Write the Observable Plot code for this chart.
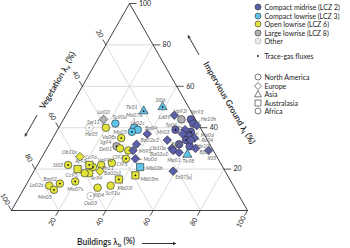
<!DOCTYPE html>
<html>
<head>
<meta charset="utf-8">
<script src="https://cdn.jsdelivr.net/npm/d3@7"></script>
<script src="https://cdn.jsdelivr.net/npm/@observablehq/plot@0.6"></script>
<style>
html,body{margin:0;padding:0;background:#fff;}
#wrap{position:relative;width:350px;height:248px;overflow:hidden;font-family:Lato,"Open Sans",sans-serif;}
#legend{position:absolute;left:0;top:0;width:350px;height:248px;pointer-events:none;}
.lg{position:absolute;font-size:7px;line-height:8px;color:#222;white-space:nowrap;display:flex;align-items:center;}
.lg svg{width:8px;height:8px;margin-right:2.5px;overflow:visible;}
</style>
</head>
<body>
<div id="wrap"><div id="chart"></div><div id="legend"></div></div>
<script>
// ---------------- data (percent of plan area) ----------------
const siteNames = ["Ld09","Mr93","","He10h","To04","Mr03","","Me06","","Ro04","","","Ba95","","Ob10u","Ba02u1","He10l","Bj05","Il05","Ma01","Es07[u]","Ba04","Ba02u2","Mi95","Mu06",
  "Tk01","Sl06","Tk98","Tu90u","Mo07u","Lo02c","Mo05","Mb03h",
  "Lo02l","Va92l","Sg94",
  "He05","Ou03",
  "Sw11","Va08s","Dn01","Cl92","Cl95","Ph11","Va99u","Cc96","Ob10s","Ar93","Sl03","Cc95","Ba02s1","Ar94","","Mo07s","Bm02","Lo02s","Mn05","Ki04","Sc91u","Mb03l","Mb03m"];
const siteClass = ["LCZ2","LCZ2","LCZ2","LCZ2","LCZ2","LCZ2","LCZ2","LCZ2","LCZ2","LCZ2","LCZ2","LCZ2","LCZ2","LCZ2","LCZ2","LCZ2","LCZ2","LCZ2","LCZ2","LCZ2","LCZ2","LCZ2","LCZ2","LCZ2","LCZ2",
  "LCZ3","LCZ3","LCZ3","LCZ3","LCZ3","LCZ3","LCZ3","LCZ3",
  "LCZ8","LCZ8","LCZ8",
  "Other","Other",
  "LCZ6","LCZ6","LCZ6","LCZ6","LCZ6","LCZ6","LCZ6","LCZ6","LCZ6","LCZ6","LCZ6","LCZ6","LCZ6","LCZ6","LCZ6","LCZ6","LCZ6","LCZ6","LCZ6","LCZ6","LCZ6","LCZ6","LCZ6"];
const siteRegion = ["EU","NA","NA","EU","EU","NA","EU","NA","NA","EU","NA","EU","EU","NA","EU","EU","NA","EU","EU","EU","EU","EU","EU","EU","EU",
  "AS","AS","AS","NA","NA","NA","NA","AU",
  "EU","NA","NA",
  "NA","AF",
  "NA","NA","NA","NA","NA","NA","NA","NA","EU","AU","NA","AU","EU","NA","NA","NA","NA","NA","NA","NA","NA","AU","AU"];
const siteFlux = [0,0,0,0,0,1,0,1,0,0,1,0,0,0,0,0,0,0,0,0,0,0,0,0,0,
  1,1,0,0,0,0,1,0,
  0,0,1,
  1,1,
  0,1,0,0,1,0,0,1,0,1,1,0,0,0,0,1,1,0,1,0,0,1,1];
const buildings = [46,54,56,58,54,50,54,57,57,60,57,59,49,55,53,54,60,63,69,57,59,39,37,37,40,
  32,39,61,23,32,34,32,44,
  17,50,29,
  13,30,
  20,29,31,35,36,31,27,24,16,22,13,18,28,24,22,20,14,10,13,31,36,38,44];
const impervious = [46,44,42,41,39,39,37,38,36,35,34,34,34,32,30,29,31,30,29,28,19,37,32,29,25,
  48,50,27,42,40,39,38,21,
  44,44,31,
  40,7,
  40,35,30,29,25,23,22,21,26,22,22,20,19,18,18,14,13,12,10,11,12,15,17];
const vegetation = [8,2,2,1,7,11,9,5,7,5,9,7,17,13,17,17,9,7,2,15,22,24,31,34,35,
  20,11,12,35,28,27,30,35,
  39,6,40,
  47,63,
  40,36,39,36,39,46,51,55,58,56,65,62,53,58,60,66,73,78,77,58,52,47,39];

const axisTicks = [20, 40, 60, 80, 100];
const gridTicks = [20, 40, 60, 80];
const classKeys = ["LCZ2","LCZ3","LCZ6","LCZ8","Other"];
const classLabels = ["Compact midrise (LCZ 2)","Compact lowrise (LCZ 3)","Open lowrise (LCZ 6)","Large lowrise (LCZ 8)","Other"];
const classColors = ["#5b5ea8","#5ec4e8","#e2e43c","#b2b2b2","#ffffff"];
const regionKeys = ["NA","EU","AS","AU","AF"];
const regionLabels = ["North America","Europe","Asia","Australasia","Africa"];
const fluxLabel = "Trace-gas fluxes";
const titleVeg = "Vegetation λ_v (%)";
const titleImp = "Impervious Ground λ_i (%)";
const titleBld = "Buildings λ_b (%)";

// label placement (pixel offsets from the marker) [dx, dy, anchor, leader]
const labelOffsets = {
  "Ld09":[-4,2,"end"], "Mr93":[0,-7,"start"], "He10h":[4,-6,"start",1], "To04":[-8,-5,"end",1],
  "Mr03":[-6,2,"end"], "Me06":[10,3,"start",1], "Ro04":[7,2.5,"start",1], "Ba95":[4,4,"start"],
  "Ob10u":[-6,0,"end"], "Ba02u1":[-5,4,"end"], "He10l":[7,0,"start"], "Bj05":[4,4,"start"],
  "Il05":[-1,8,"start"], "Ma01":[-5,8,"middle"], "Es07[u]":[2,6,"start"], "Ba04":[4,-6,"middle"],
  "Ba02u2":[4,-4,"start"], "Mi95":[6,1,"start"], "Mu06":[8,1,"start",1],
  "Tk01":[-6,-4,"end"], "Sl06":[-2,-7,"middle"], "Tk98":[1,7,"middle"], "Tu90u":[-3,-6,"start"],
  "Mo07u":[0,-12,"middle",1], "Lo02c":[0,-6.5,"middle",1], "Mo05":[-5,0,"end"], "Mb03h":[6,1,"start",1],
  "Lo02l":[0,-7,"middle"], "Va92l":[-1,-8,"middle"], "Sg94":[-5,-4,"end"],
  "He05":[2,7,"middle"], "Ou03":[0,7,"middle"],
  "Sw11":[-6,-5,"end",1], "Va08s":[-5,-1,"end"], "Dn01":[-8,1,"end"], "Cl92":[-5,7,"end"],
  "Cl95":[-4,6,"middle"], "Ph11":[-4,5,"middle"], "Va99u":[4,-5,"middle"], "Cc96":[-2,-10,"middle"],
  "Ar93":[-3,-4,"end"], "Ob10s":[-3,-4,"end"], "Sl03":[-5,0,"end"], "Cc95":[-6,6,"middle"],
  "Ba02s1":[4,2,"start"], "Ar94":[7,5,"middle"], "Mo07s":[0,8,"middle"], "Bm02":[-3,-4,"end"],
  "Lo02s":[-6,0,"end"], "Mn05":[-9,7,"middle"], "Ki04":[1,8,"middle"], "Sc91u":[2,8,"middle"],
  "Mb03l":[6,9,"middle"], "Mb03m":[5,4,"start"]
};

// ---------------- geometry helpers ----------------
const X0 = 11, X1 = 247, YB = 210, YT = 3;
const pxX = 1 / (X1 - X0), pxY = 1 / (YB - YT);
const tern = (b, i, v = 100 - b - i) => { const s = b + i + v; return {x: (b + i / 2) / s, y: i / s}; };
const off = (p, dxp, dyp) => ({x: p.x + dxp * pxX, y: p.y - dyp * pxY});

const pts = siteNames.map((name, k) => {
  const p = tern(buildings[k], impervious[k], vegetation[k]);
  const o = labelOffsets[name] || [0, 0, "middle", 0];
  const l = off(p, o[0], o[1]);
  const e = off(p, o[0] * 0.8, o[1] * 0.8);
  return {name, cls: siteClass[k], region: siteRegion[k], flux: siteFlux[k], x: p.x, y: p.y,
          lx: l.x, ly: l.y, ex: e.x, ey: e.y, anchor: o[2], leader: !!o[3]};
});

// grid lines
const grid = [];
for (const t of gridTicks) {
  let a = tern(0, t), b = tern(100 - t, t); grid.push({x1:a.x,y1:a.y,x2:b.x,y2:b.y});
  a = tern(t, 0); b = tern(t, 100 - t); grid.push({x1:a.x,y1:a.y,x2:b.x,y2:b.y});
  a = tern(100 - t, 0); b = tern(0, 100 - t); grid.push({x1:a.x,y1:a.y,x2:b.x,y2:b.y});
}
const outline = [tern(0,0), tern(100,0), tern(0,100), tern(0,0)];

// ticks
const ux = 0.495, uy = 0.869;
const tickSegs = [], impLab = [], vegLab = [], bldLab = [];
for (const t of axisTicks) {
  let p = tern(100 - t, t);                       // impervious, right edge
  let q = off(p, 7, 0); tickSegs.push({x1:p.x,y1:p.y,x2:q.x,y2:q.y});
  q = off(p, 9.5, 0); impLab.push({x:q.x, y:q.y, text:String(t)});
  p = tern(0, 100 - t);                           // vegetation, left edge
  q = off(p, -ux*6, -uy*6); tickSegs.push({x1:p.x,y1:p.y,x2:q.x,y2:q.y});
  q = off(p, -ux*13, -uy*13); vegLab.push({x:q.x, y:q.y, text:String(t)});
  p = tern(t, 0);                                 // buildings, bottom edge
  q = off(p, -ux*6, uy*6); tickSegs.push({x1:p.x,y1:p.y,x2:q.x,y2:q.y});
  q = off(p, -ux*13, uy*13); bldLab.push({x:q.x, y:q.y, text:String(t)});
}

// axis titles and arrows
const nL = [-uy, -ux], nR = [uy, -ux];
const at = (p, n, d) => off(p, n[0]*d, n[1]*d);
const vegT = at(tern(0, 57), nL, 24);
const impT = at(tern(57, 43), nR, 37);
const bldT = off(tern(40, 0), 0, 32);
const arrows = [];
{ let a = at(tern(0,40), nL, 25), b = at(tern(0,30), nL, 25); arrows.push({x1:a.x,y1:a.y,x2:b.x,y2:b.y}); }
{ let a = at(tern(33,67), nR, 35), b = at(tern(24,76), nR, 35); arrows.push({x1:a.x,y1:a.y,x2:b.x,y2:b.y}); }
{ let a = off(tern(55.5,0),0,33), b = off(tern(69.5,0),0,33); arrows.push({x1:a.x,y1:a.y,x2:b.x,y2:b.y}); }

const symbolOf = {NA:"circle", EU:"diamond2", AS:"triangle", AU:"square", AF:"circle"};
const rOf = {NA:3.8, EU:3.9, AS:3.4, AU:4.1, AF:3.8};
const dotMarks = regionKeys.map(rk => Plot.dot(pts.filter(d => d.region === rk), {
  x:"x", y:"y", symbol: symbolOf[rk], r: rOf[rk], fill: "cls",
  stroke: d => d.cls === "Other" ? "#9a9a9a" : "#2a2a2a", strokeWidth: 0.6
}));

const labelFont = {fontSize: 5.4, fontStyle: "italic", fill: "#6a6a6a"};
const labelMarks = ["start","middle","end"].map(a => Plot.text(pts.filter(d => d.name && d.anchor === a),
  {x:"lx", y:"ly", text:"name", textAnchor:a, ...labelFont}));

const chart = Plot.plot({
  width: 350, height: 248, margin: 0,
  x: {domain:[0,1], range:[X0,X1], axis:null},
  y: {domain:[0,1], range:[YB,YT], axis:null},
  color: {domain: classKeys, range: classColors},
  style: {fontFamily: "Lato, 'Open Sans', sans-serif", background: "transparent", overflow: "visible"},
  marks: [
    Plot.link(grid, {x1:"x1",y1:"y1",x2:"x2",y2:"y2", stroke:"#cdcdcd", strokeWidth:0.7}),
    Plot.line(outline, {x:"x", y:"y", stroke:"#2a2a2a", strokeWidth:0.9}),
    Plot.link(tickSegs, {x1:"x1",y1:"y1",x2:"x2",y2:"y2", stroke:"#2a2a2a", strokeWidth:0.8}),
    Plot.text(impLab, {x:"x", y:"y", text:"text", textAnchor:"start", fontSize:7, fill:"#222"}),
    Plot.text(vegLab, {x:"x", y:"y", text:"text", rotate:60, fontSize:7, fill:"#222"}),
    Plot.text(bldLab, {x:"x", y:"y", text:"text", rotate:-60, fontSize:7, fill:"#222"}),
    Plot.text([{...vegT, t:titleVeg}], {x:"x", y:"y", text:"t", rotate:-60, fontSize:8.5, fontWeight:600, fill:"#1e1e1e"}),
    Plot.text([{...impT, t:titleImp}], {x:"x", y:"y", text:"t", rotate:60, fontSize:8.5, fontWeight:600, fill:"#1e1e1e"}),
    Plot.text([{...bldT, t:titleBld}], {x:"x", y:"y", text:"t", fontSize:8.5, fontWeight:600, fill:"#1e1e1e"}),
    Plot.arrow(arrows, {x1:"x1",y1:"y1",x2:"x2",y2:"y2", stroke:"#1e1e1e", strokeWidth:0.9, headLength:4, headAngle:50}),
    Plot.link(pts.filter(d => d.leader), {x1:"x",y1:"y",x2:"ex",y2:"ey", stroke:"#333", strokeWidth:0.5}),
    ...dotMarks,
    Plot.dot(pts.filter(d => d.flux), {x:"x", y:"y", r:0.9, fill: d => d.cls === "Other" ? "#999" : "#111"}),
    ...labelMarks
  ]
});
document.getElementById("chart").appendChild(chart);

// subscripts in axis titles
d3.select(chart).selectAll("text").each(function() {
  const m = this.textContent.match(/^(.*λ)_(\w)(.*)$/);
  if (!m) return;
  const s = d3.select(this); s.text(null);
  s.append("tspan").text(m[1]);
  s.append("tspan").attr("dy","0.3em").attr("font-size","0.7em").text(m[2]);
  s.append("tspan").attr("dy","-0.3em").text(m[3]);
});

// ---------------- legend ----------------
const leg = d3.select("#legend");
const row = (top, left, iconFn, text) => {
  const r = leg.append("div").attr("class","lg").style("top", (top - 4) + "px").style("left", left + "px");
  const s = r.append("svg").attr("viewBox","-4 -4 8 8");
  iconFn(s);
  r.append("span").text(text);
};
const classRowY = [7, 15.5, 24, 32.5, 41];
classLabels.forEach((lab, k) => row(classRowY[k], 254, s => {
  const other = classKeys[k] === "Other";
  s.append("circle").attr("r", 3).attr("fill", classColors[k]).attr("stroke", other ? "#9a9a9a" : "#333").attr("stroke-width", 0.6);
  if (other) s.append("circle").attr("r", 1.4).attr("fill","none").attr("stroke","#bbb").attr("stroke-width",0.6);
}, lab));
row(56, 254, s => s.append("circle").attr("r", 0.9).attr("fill","#111"), fluxLabel);
const regRowY = [77, 85.5, 94, 102.5, 111];
const regPath = {
  NA: "M3,0A3,3 0 1,1 -3,0A3,3 0 1,1 3,0Z",
  EU: "M0,-3.5L3.5,0L0,3.5L-3.5,0Z",
  AS: "M0,-3.4L3.4,2.8L-3.4,2.8Z",
  AU: "M-3,-3H3V3H-3Z",
  AF: "M3,0A3,3 0 1,1 -3,0A3,3 0 1,1 3,0Z"
};
regionLabels.forEach((lab, k) => row(regRowY[k], 254, s => {
  s.append("path").attr("d", regPath[regionKeys[k]]).attr("fill","none").attr("stroke","#444").attr("stroke-width",0.7);
}, lab));
</script>
</body>
</html>
